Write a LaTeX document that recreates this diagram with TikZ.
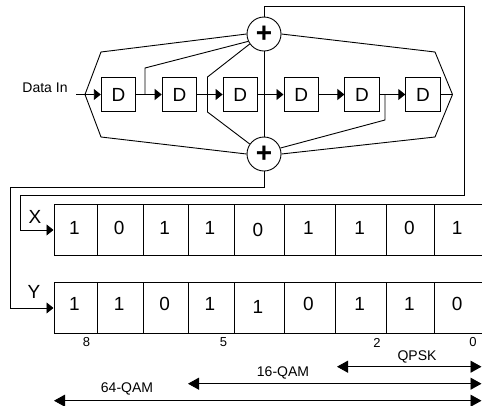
\documentclass[tikz,border=0pt]{standalone}
\usepackage{fontspec}
\setsansfont{Liberation Sans}
\usetikzlibrary{arrows.meta,positioning,calc}

\begin{document}
\begin{tikzpicture}[
    x=1pt, y=-1pt,
    font=\fontsize{14}{16}\selectfont\sffamily,
    line width=0.9pt,
    delay/.style={draw, minimum size=34.5pt, inner sep=0pt, font=\fontsize{19}{20}\selectfont\sffamily},
    adder/.style={draw, circle, minimum size=34pt, inner sep=0pt, font=\fontsize{28}{28}\selectfont\sffamily\bfseries},
    cell/.style={draw, minimum height=51pt, inner sep=0pt},
    bit/.style={inner sep=0pt, font=\fontsize{19}{20}\selectfont\sffamily},
    idx/.style={inner sep=0pt, font=\fontsize{13}{15}\selectfont\sffamily},
    arr/.style={-{Triangle[length=7pt,width=11pt]}},
    span/.style={{Triangle[length=11pt,width=12pt]}-{Triangle[length=11pt,width=12pt]}}
]
  \useasboundingbox (0,0) rectangle (482,405);

  % delay line
  \node[delay] (d1) at (118.5,94.5) {D};
  \node[delay, right=25.5pt of d1] (d2) {D};
  \node[delay, right=25.5pt of d2] (d3) {D};
  \node[delay, right=25.5pt of d3] (d4) {D};
  \node[delay, right=25.5pt of d4] (d5) {D};
  \node[delay, right=25.5pt of d5] (d6) {D};
  \node[adder] (addtop) at (264,34) {+};
  \node[adder] (addbot) at (264,154) {+};
  \node (datain) at (45,87.5) {Data In};

  \coordinate (in) at (76,94.5);
  \coordinate (apexl) at (85,94.5);
  \coordinate (apexr) at (452.5,94.5);
  \coordinate (tap1) at (145,94.5);
  \coordinate (tap5) at (385,94.5);

  \draw[arr] (in) -- (d1);
  \draw[arr] (d1) -- (d2);
  \draw[arr] (d2) -- (d3);
  \draw[arr] (d3) -- (d4);
  \draw[arr] (d4) -- (d5);
  \draw[arr] (d5) -- (d6);
  \draw (d6) -- (apexr);

  % outer taps
  \draw (addtop.west) -- (101,52) -- (apexl) -- (101,137) -- (addbot.west);
  \draw (addtop.east) -- (435,52) -- (apexr) -- (435,137) -- (addbot.east);
  % inner taps
  \draw (addtop) -- (addbot);
  \draw (addtop.205) -- (145,68) -- (tap1);
  \draw (addtop.215) -- (207.5,77) -- (207.5,112) -- (addbot.145);
  \draw (tap5) -- (385,120) -- (addbot.20);

  % registers
  \foreach \i/\lo/\hi/\bx/\by/\ox/\oy in {1/53.5/96.5/1/1/-1.5/-3.5, 2/96.5/143/0/1/-1.5/-3.5,
      3/143/187.5/1/0/-1.5/-3.5, 4/187.5/233.5/1/1/-1.5/-3.5, 5/233.5/283.5/0/1/0.5/-0.5,
      6/283.5/334.5/1/0/-1.5/-3.5, 7/334.5/386/1/1/-1.5/-3.5, 8/386/434/0/1/-1.5/-3.5, 9/434/481.5/1/0/-1.5/-3.5} {
    \node[cell, minimum width={\hi pt-\lo pt}, anchor=north west] (x\i) at (\lo,204) {};
    \node[cell, minimum width={\hi pt-\lo pt}, anchor=north west] (y\i) at (\lo,282) {};
    \node[bit] (bx\i) at ($(x\i.center)+(-1,\ox)$) {\bx};
    \node[bit] (by\i) at ($(y\i.center)+(-1,\oy)$) {\by};
  }
  \node[bit] (xlabel) at (35,217) {X};
  \node[bit] (ylabel) at (34,292) {Y};

  % outputs
  \draw[arr] (addtop.north) -- (264,6) -- (464,6) -- (464,195) -- (20,195) |- (x1.west);
  \draw[arr] (addbot.south) -- (264,187) -- (10,187) |- (y1.west);

  % bit positions
  \node[idx] (i8) at (86.5,342) {8};
  \node[idx] (i5) at (223.5,342) {5};
  \node[idx] (i2) at (377,343) {2};
  \node[idx] (i0) at (473,342) {0};

  % modulation spans
  \coordinate (qs) at (337,366.7);
  \coordinate (qe) at (481.5,366.7);
  \coordinate (ms) at (188,383.7);
  \coordinate (me) at (481.5,383.7);
  \coordinate (ls) at (54,400.7);
  \coordinate (le) at (481.5,400.7);
  \draw[span] (qs) -- (qe);
  \draw[span] (ms) -- (me);
  \draw[span] (ls) -- (le);
  \node (qpsk) at (417,357) {QPSK};
  \node (qam16) at (283,372.7) {16-QAM};
  \node (qam64) at (127,389) {64-QAM};
\end{tikzpicture}
\end{document}
